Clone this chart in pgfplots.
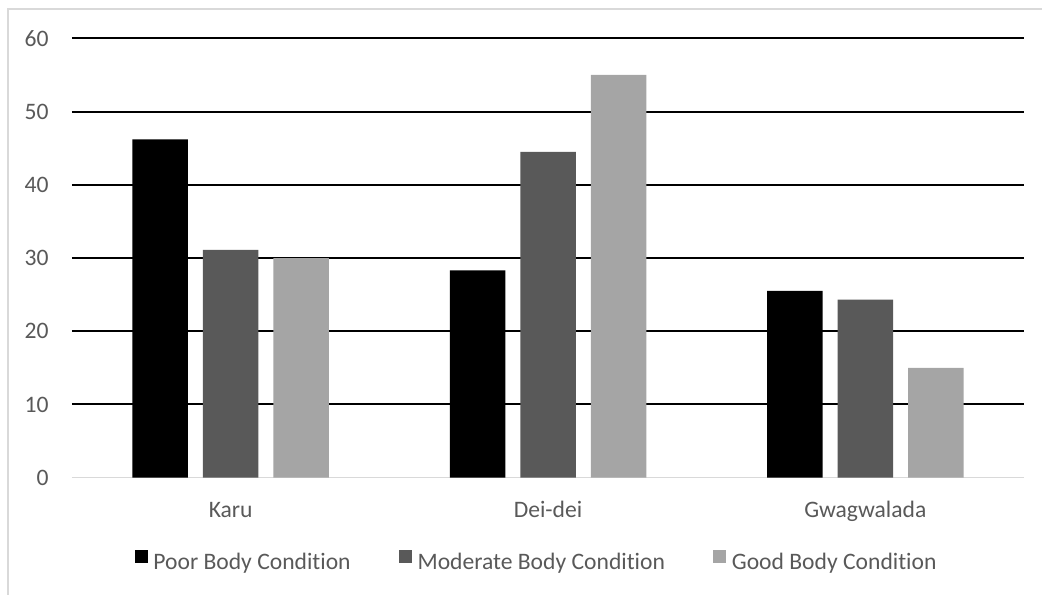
\documentclass[border=0pt]{standalone}
\usepackage{fontspec}
\setmainfont{Carlito}[Ligatures=NoCommon]
\usepackage{pgfplots}
\pgfplotsset{compat=1.18}
\definecolor{txt}{HTML}{595959}
\definecolor{modg}{HTML}{595959}
\definecolor{goodg}{HTML}{A5A5A5}
\definecolor{framec}{HTML}{D9D9D9}
\begin{document}
\begin{tikzpicture}
\useasboundingbox (-36pt,-58.15pt) rectangle (485pt,238.85pt);
\draw[framec, line width=0.6pt] (-32pt,-60pt) -- (-32pt,234.35pt) -- (490pt,234.35pt);
\begin{axis}[
  scale only axis, width=476pt, height=219.7pt,
  xmin=-0.5, xmax=2.5, ymin=0, ymax=60,
  ybar=7.5pt, bar width=27.75pt,
  xtick={0,1,2}, xticklabels={Karu,Dei-dei,Gwagwalada},
  ytick={10,20,...,60}, extra y ticks={0}, extra y tick style={grid=none},
  ymajorgrids, major grid style={black, line width=1pt},
  major tick length=0,
  /pgf/number format/assume math mode=true,
  axis x line*=bottom, axis y line*=left,
  y axis line style={draw=none},
  x axis line style={draw=framec, line width=0.6pt, -},
  tick label style={font=\fontsize{11.8}{14}\selectfont, text=txt},
  yticklabel style={anchor=east, inner sep=0pt, xshift=-11.5pt},
  xticklabel style={anchor=base, inner sep=0pt, yshift=-19.65pt},
  legend style={draw=none, fill=none, at={(0.4869,-0.1907)}, anchor=center,
    legend columns=-1, font=\fontsize{11.8}{14}\selectfont, text=txt,
    nodes={inner sep=0pt},
    /tikz/every odd column/.append style={column sep=2.8pt},
    /tikz/every even column/.append style={column sep=24pt}},
  legend image code/.code={\fill[#1] (0pt,0pt) rectangle (6.65pt,6.65pt);},
]
\addplot[fill=black, draw=none] coordinates {(0,46.2) (1,28.3) (2,25.5)};
\addplot[fill=modg, draw=none] coordinates {(0,31.1) (1,44.5) (2,24.3)};
\addplot[fill=goodg, draw=none] coordinates {(0,30.0) (1,55.0) (2,15.0)};
\legend{Poor Body Condition, Moderate Body Condition, Good Body Condition}
\end{axis}
\end{tikzpicture}
\end{document}
